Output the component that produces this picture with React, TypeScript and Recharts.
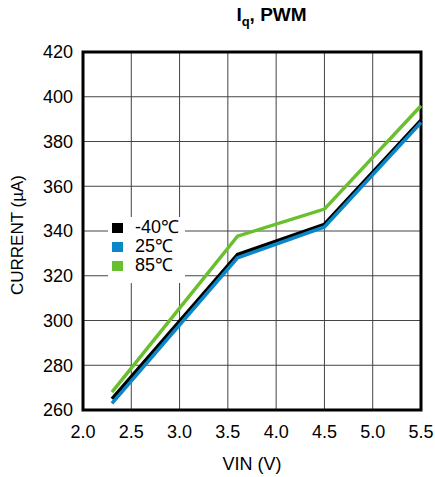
import React from 'react';
import { LineChart, Line, XAxis, YAxis, CartesianGrid, ReferenceArea } from 'recharts';

const vin = [2.3, 3.6, 4.5, 5.5];
const currentM40 = [265, 329.5, 343, 389.5];
const current25 = [263, 328, 341.8, 388.5];
const current85 = [268, 337.7, 349.8, 396];
const xTicks = [2.0, 2.5, 3.0, 3.5, 4.0, 4.5, 5.0, 5.5];
const yTicks = [260, 280, 300, 320, 340, 360, 380, 400, 420];
const seriesNames = ['-40℃', '25℃', '85℃'];
const seriesColors = ['#000000', '#0a87c9', '#6abf2e'];

const data = vin.map((v, i) => ({ vin: v, m40: currentM40[i], c25: current25[i], c85: current85[i] }));

const font = '"Liberation Sans", Arial, sans-serif';

const LegendBox = () => (
  <div style={{ position: 'absolute', left: 108, top: 217, background: '#fff', padding: '1px 6px 8px 4px', fontFamily: font, fontSize: 18, lineHeight: '19px', color: '#000' }}>
    {seriesNames.map((n, i) => (
      <div key={n} style={{ display: 'flex', alignItems: 'center' }}>
        <span style={{ display: 'inline-block', width: 11, height: 10, background: seriesColors[i], marginRight: 12 }} />
        <span>{n}</span>
      </div>
    ))}
  </div>
);

export default function App() {
  return (
    <div style={{ position: 'absolute', left: 0, top: 0, width: 435, height: 477, background: '#fff' }}>
      <div style={{ position: 'absolute', left: 0, top: 4, width: 435, textAlign: 'center', paddingLeft: 108, boxSizing: 'border-box', fontFamily: font, fontWeight: 'bold', fontSize: 19, color: '#000' }}>
        I<sub style={{ fontSize: 13 }}>q</sub>, PWM
      </div>
      <LineChart width={435} height={477} data={data} margin={{ top: 52, right: 14, left: 23, bottom: 27 }}>
        <CartesianGrid stroke="#444" strokeWidth={1} vertical horizontal />
        <XAxis dataKey="vin" type="number" domain={[2.0, 5.5]} ticks={xTicks} tickFormatter={(v: number) => v.toFixed(1)}
          tickLine={false} axisLine={false} tickSize={0} tickMargin={15} height={40}
          tick={{ fill: '#000', fontSize: 18, fontFamily: font }}
          label={{ value: 'VIN (V)', position: 'insideBottom', offset: -20, fill: '#000', fontSize: 18, fontFamily: font }} />
        <YAxis type="number" domain={[260, 420]} ticks={yTicks} tickLine={false} axisLine={false} tickSize={0} tickMargin={10} width={60}
          tick={{ fill: '#000', fontSize: 18, fontFamily: font }}
          label={{ value: 'CURRENT (µA)', angle: -90, position: 'insideLeft', offset: -6, dy: 4, fill: '#000', fontSize: 17, fontFamily: font, style: { textAnchor: 'middle' } }} />
        <ReferenceArea x1={2.0} x2={5.5} y1={260} y2={420} fill="none" stroke="#000" strokeWidth={3} ifOverflow="visible" />
        <Line dataKey="c85" stroke={seriesColors[2]} strokeWidth={3.5} dot={false} isAnimationActive={false} />
        <Line dataKey="m40" stroke={seriesColors[0]} strokeWidth={3.5} dot={false} isAnimationActive={false} />
        <Line dataKey="c25" stroke={seriesColors[1]} strokeWidth={3.5} dot={false} isAnimationActive={false} />
      </LineChart>
      <LegendBox />
    </div>
  );
}
